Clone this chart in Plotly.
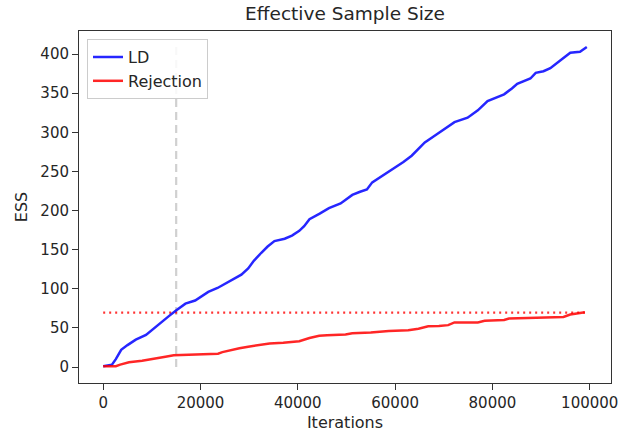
import plotly.graph_objects as go

# LD effective sample size
ld_x = [0, 1000, 1800, 2600, 3700, 5000, 6700, 8800, 10500, 12100,
        13500, 14900, 16000, 16900, 18900, 20500, 21600, 23500, 25700, 27000,
        28400, 29800, 31000, 32500, 33800, 35200, 37300, 38800, 40300, 41300,
        42400, 44500, 46400, 48800, 50000, 51200, 52800, 54200, 55300, 56800,
        58000, 60000, 61700, 63400, 64800, 66100, 68200, 70200, 72200, 74900,
        77000, 79000, 80700, 82400, 84000, 85100, 87800, 88900, 90500, 91900,
        94000, 96000, 98000, 99400]
ld_y = [1, 2, 3, 10, 22, 28, 35, 41, 50, 58,
        65, 72, 77, 81, 85, 91, 96, 101, 109, 113,
        118, 126, 136, 146, 154, 161, 164, 168, 174, 180,
        189, 196, 203, 209, 214, 220, 224, 227, 236, 242,
        246.5, 255, 262, 270, 279, 287, 296, 304, 313, 318.6,
        328, 340, 344, 348.5, 356, 362, 368.7, 376, 378, 382,
        392, 401.7, 403, 409]

# Rejection sampling effective sample size
rej_x = [0, 2600, 3500, 5300, 8000, 11400, 12800, 14500, 18900, 23600,
         24500, 26400, 28000, 29800, 32500, 34200, 37000, 40300, 42400, 44400,
         46000, 49800, 51200, 55000, 58700, 62700, 64800, 66800, 69000, 70900,
         72200, 77000, 78400, 82400, 83400, 88000, 90600, 94600, 96000, 99000]
rej_y = [1, 1, 3, 6, 8, 11, 13, 15, 16, 17,
         19, 22, 24, 26, 29, 30, 31, 33, 37, 40,
         40.5, 41.5, 43, 44, 46, 47, 49, 52, 52.5, 53.5,
         57, 57, 59, 60, 62, 62.5, 63, 64, 67, 70]

# reference lines
hline_x = [0, 99000]
hline_y = [69.6, 69.6]
vline_x = [15000, 15000]
vline_y = [0, 409]

x_ticks = [0, 20000, 40000, 60000, 80000, 100000]
y_ticks = [0, 50, 100, 150, 200, 250, 300, 350, 400]

FONT = "DejaVu Sans"
TXT = "#262626"

fig = go.Figure()
fig.add_trace(go.Scatter(x=vline_x, y=vline_y, mode="lines", showlegend=False,
                         line=dict(color="rgba(200,200,200,0.85)", width=2.2, dash="8px,5px"),
                         hoverinfo="skip"))
fig.add_trace(go.Scatter(x=hline_x, y=hline_y, mode="lines", showlegend=False,
                         line=dict(color="rgba(255,0,0,0.8)", width=2.2, dash="2px,4px"),
                         hoverinfo="skip"))
fig.add_trace(go.Scatter(x=ld_x, y=ld_y, mode="lines", name="LD",
                         line=dict(color="rgba(0,0,255,0.85)", width=2.5)))
fig.add_trace(go.Scatter(x=rej_x, y=rej_y, mode="lines", name="Rejection",
                         line=dict(color="rgba(255,0,0,0.85)", width=2.5)))

axis_common = dict(showgrid=False, zeroline=False, showline=True, linecolor="#333333",
                   linewidth=1, mirror=True, ticks="outside", ticklen=6, tickcolor="#333333",
                   automargin=False,
                   tickfont=dict(family=FONT, size=15, color=TXT))

fig.update_layout(
    width=621, height=432,
    margin=dict(l=79, r=10, t=31, b=49),
    paper_bgcolor="white", plot_bgcolor="white",
    title=dict(text="Effective Sample Size", x=(79 + 266) / 621, xanchor="center",
               y=1 - 14 / 432, yanchor="middle",
               font=dict(family=FONT, size=18.5, color=TXT)),
    xaxis=dict(range=[-4970, 104370], tickvals=x_ticks,
               ticktext=[str(v) for v in x_ticks],
               title=dict(text="Iterations", font=dict(family=FONT, size=16, color=TXT), standoff=8),
               **axis_common),
    yaxis=dict(range=[-20.45, 429.45], tickvals=y_ticks,
               ticktext=[str(v) for v in y_ticks],
               title=dict(text="ESS", font=dict(family=FONT, size=16, color=TXT), standoff=8),
               **axis_common),
    legend=dict(x=0.015, y=0.977, xanchor="left", yanchor="top",
                bgcolor="rgba(255,255,255,0.85)", bordercolor="#cccccc", borderwidth=1,
                font=dict(family=FONT, size=16, color=TXT), tracegroupgap=0),
    showlegend=True,
)

fig.write_html("out.html")
